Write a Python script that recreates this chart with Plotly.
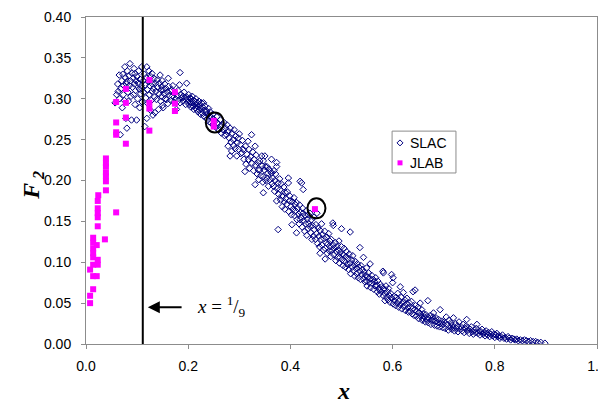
import plotly.graph_objects as go

# ---------------- data ----------------
jlab_x = [0.008, 0.008, 0.008, 0.014, 0.014, 0.021, 0.014, 0.023, 0.023, 0.014, 0.021,
          0.014, 0.014, 0.014, 0.014, 0.023, 0.037, 0.023, 0.059, 0.024, 0.023, 0.023,
          0.023, 0.039, 0.039, 0.039, 0.039, 0.039, 0.039, 0.039, 0.059, 0.059, 0.059,
          0.059, 0.078, 0.078, 0.078, 0.078, 0.124, 0.124, 0.124, 0.124, 0.174, 0.174,
          0.174, 0.250, 0.250, 0.448]
jlab_y = [0.050, 0.059, 0.091, 0.067, 0.083, 0.083, 0.097, 0.097, 0.103, 0.106, 0.121,
          0.111, 0.117, 0.124, 0.130, 0.144, 0.128, 0.155, 0.161, 0.182, 0.160, 0.166,
          0.175, 0.188, 0.199, 0.205, 0.210, 0.217, 0.221, 0.227, 0.256, 0.259, 0.271,
          0.296, 0.245, 0.277, 0.295, 0.312, 0.261, 0.288, 0.295, 0.323, 0.285, 0.294,
          0.308, 0.266, 0.273, 0.165]

slac_points = [
    # x 0.055 - 0.11
    (0.057, 0.295), (0.060, 0.305), (0.062, 0.318), (0.063, 0.309), (0.065, 0.329), (0.066, 0.300),
    (0.067, 0.256), (0.068, 0.312), (0.070, 0.322), (0.071, 0.289), (0.072, 0.330), (0.073, 0.305),
    (0.074, 0.316), (0.075, 0.298), (0.076, 0.339), (0.077, 0.326), (0.078, 0.276), (0.079, 0.318),
    (0.080, 0.264), (0.080, 0.321), (0.081, 0.334), (0.082, 0.308), (0.083, 0.297), (0.084, 0.328),
    (0.085, 0.316), (0.086, 0.343), (0.087, 0.322), (0.088, 0.303), (0.089, 0.274), (0.090, 0.331),
    (0.091, 0.314), (0.092, 0.325), (0.093, 0.305), (0.094, 0.337), (0.095, 0.318), (0.096, 0.293),
    (0.096, 0.331), (0.097, 0.310), (0.098, 0.322), (0.099, 0.274), (0.100, 0.327), (0.101, 0.300),
    (0.102, 0.319), (0.103, 0.334), (0.104, 0.312), (0.105, 0.289), (0.106, 0.324), (0.107, 0.306),
    (0.108, 0.316), (0.109, 0.339), (0.109, 0.313), (0.110, 0.296),
    # x 0.11 - 0.20
    (0.112, 0.322), (0.113, 0.308), (0.114, 0.330), (0.115, 0.266), (0.116, 0.317), (0.117, 0.301),
    (0.118, 0.326), (0.119, 0.339), (0.119, 0.276), (0.120, 0.311), (0.121, 0.294), (0.122, 0.321),
    (0.123, 0.334), (0.124, 0.305), (0.125, 0.316), (0.126, 0.286), (0.127, 0.327), (0.128, 0.298),
    (0.129, 0.331), (0.129, 0.309), (0.130, 0.318), (0.131, 0.280), (0.132, 0.312), (0.133, 0.325),
    (0.134, 0.302), (0.135, 0.283), (0.136, 0.319), (0.137, 0.309), (0.138, 0.299), (0.139, 0.323),
    (0.140, 0.314), (0.142, 0.287), (0.143, 0.306), (0.144, 0.319), (0.145, 0.329), (0.146, 0.297),
    (0.147, 0.311), (0.148, 0.303), (0.148, 0.315), (0.149, 0.322), (0.150, 0.292), (0.151, 0.289),
    (0.151, 0.311), (0.153, 0.306), (0.154, 0.318), (0.155, 0.300), (0.156, 0.313), (0.158, 0.299),
    (0.159, 0.308), (0.160, 0.294), (0.161, 0.325), (0.162, 0.315), (0.163, 0.304), (0.165, 0.309),
    (0.166, 0.298), (0.168, 0.311), (0.169, 0.303), (0.170, 0.316), (0.172, 0.296), (0.174, 0.307),
    (0.175, 0.300), (0.177, 0.287), (0.178, 0.304), (0.180, 0.310), (0.181, 0.298), (0.183, 0.317),
    (0.184, 0.295), (0.184, 0.332), (0.186, 0.305), (0.188, 0.301), (0.190, 0.303), (0.190, 0.297),
    (0.192, 0.308), (0.194, 0.300), (0.195, 0.293), (0.197, 0.319), (0.197, 0.302), (0.199, 0.296),
    # x 0.20 - 0.256
    (0.200, 0.299), (0.201, 0.305), (0.202, 0.293), (0.203, 0.301), (0.204, 0.296), (0.205, 0.290),
    (0.206, 0.300), (0.207, 0.295), (0.208, 0.303), (0.209, 0.291), (0.210, 0.298), (0.211, 0.287),
    (0.212, 0.294), (0.213, 0.297), (0.214, 0.289), (0.215, 0.300), (0.216, 0.292), (0.217, 0.287),
    (0.218, 0.295), (0.219, 0.284), (0.220, 0.290), (0.221, 0.297), (0.222, 0.286), (0.223, 0.293),
    (0.224, 0.281), (0.225, 0.288), (0.226, 0.295), (0.227, 0.283), (0.228, 0.290), (0.230, 0.295),
    (0.230, 0.279), (0.231, 0.286), (0.233, 0.291), (0.234, 0.277), (0.235, 0.284), (0.236, 0.285),
    (0.237, 0.275), (0.238, 0.281), (0.240, 0.288), (0.241, 0.272), (0.242, 0.279), (0.243, 0.284),
    (0.245, 0.270), (0.246, 0.277), (0.248, 0.281), (0.249, 0.268), (0.250, 0.275), (0.252, 0.272),
    (0.254, 0.265), (0.256, 0.278),
    # x 0.256 - 0.455
    (0.258, 0.270), (0.260, 0.262), (0.262, 0.266), (0.263, 0.274), (0.265, 0.258), (0.266, 0.268),
    (0.268, 0.262), (0.270, 0.271), (0.271, 0.255), (0.273, 0.264), (0.275, 0.256), (0.276, 0.268),
    (0.278, 0.242), (0.279, 0.260), (0.280, 0.252), (0.282, 0.264), (0.282, 0.230), (0.284, 0.247),
    (0.285, 0.236), (0.286, 0.258), (0.288, 0.250), (0.289, 0.243), (0.290, 0.262), (0.292, 0.239),
    (0.293, 0.254), (0.295, 0.230), (0.296, 0.246), (0.298, 0.252), (0.299, 0.238), (0.300, 0.257),
    (0.302, 0.244), (0.303, 0.233), (0.305, 0.234), (0.306, 0.249), (0.308, 0.238), (0.309, 0.226),
    (0.311, 0.211), (0.312, 0.242), (0.313, 0.220), (0.315, 0.232), (0.317, 0.248), (0.318, 0.226),
    (0.319, 0.238), (0.320, 0.215), (0.322, 0.229), (0.324, 0.256), (0.325, 0.221), (0.326, 0.235),
    (0.328, 0.212), (0.329, 0.226), (0.331, 0.242), (0.331, 0.195), (0.332, 0.219), (0.333, 0.231),
    (0.335, 0.208), (0.336, 0.222), (0.337, 0.213), (0.338, 0.201), (0.340, 0.224), (0.340, 0.213),
    (0.342, 0.206), (0.344, 0.230), (0.345, 0.218), (0.346, 0.198), (0.347, 0.224), (0.347, 0.205),
    (0.347, 0.185), (0.349, 0.213), (0.350, 0.230), (0.351, 0.217), (0.352, 0.200), (0.354, 0.203),
    (0.354, 0.217), (0.356, 0.209), (0.357, 0.193), (0.358, 0.214), (0.360, 0.201), (0.361, 0.211),
    (0.363, 0.226), (0.363, 0.209), (0.364, 0.196), (0.365, 0.203), (0.367, 0.193), (0.368, 0.212),
    (0.369, 0.187), (0.370, 0.200), (0.371, 0.208), (0.373, 0.222), (0.373, 0.217), (0.373, 0.175),
    (0.374, 0.190), (0.376, 0.140), (0.376, 0.197), (0.377, 0.183), (0.379, 0.202), (0.380, 0.189),
    (0.381, 0.176), (0.382, 0.196), (0.383, 0.181), (0.384, 0.168), (0.386, 0.181), (0.387, 0.192),
    (0.388, 0.174), (0.389, 0.165), (0.390, 0.185), (0.391, 0.178), (0.393, 0.171), (0.394, 0.186),
    (0.396, 0.197), (0.396, 0.203), (0.397, 0.162), (0.398, 0.175), (0.399, 0.181), (0.401, 0.168),
    (0.402, 0.158), (0.403, 0.146), (0.404, 0.174), (0.405, 0.165), (0.407, 0.179), (0.408, 0.157),
    (0.409, 0.171), (0.410, 0.163), (0.412, 0.136), (0.412, 0.173), (0.413, 0.152), (0.414, 0.166),
    (0.416, 0.159), (0.417, 0.147), (0.418, 0.170), (0.419, 0.199), (0.419, 0.152), (0.420, 0.161),
    (0.421, 0.155), (0.422, 0.197), (0.423, 0.143), (0.424, 0.166), (0.425, 0.189), (0.425, 0.160),
    (0.426, 0.151), (0.428, 0.138), (0.429, 0.157), (0.430, 0.147), (0.431, 0.163), (0.432, 0.133),
    (0.433, 0.153), (0.434, 0.141), (0.435, 0.158), (0.436, 0.147), (0.438, 0.144), (0.438, 0.160),
    (0.440, 0.136), (0.441, 0.152), (0.442, 0.128), (0.443, 0.145), (0.445, 0.132), (0.446, 0.155),
    (0.447, 0.140), (0.449, 0.128), (0.450, 0.146), (0.451, 0.135), (0.452, 0.160), (0.453, 0.123),
    (0.454, 0.142),
    # x 0.455 - 0.70
    (0.456, 0.132), (0.457, 0.119), (0.458, 0.139), (0.458, 0.111), (0.460, 0.128), (0.461, 0.147),
    (0.462, 0.121), (0.463, 0.134), (0.465, 0.115), (0.466, 0.129), (0.467, 0.138), (0.468, 0.104),
    (0.468, 0.117), (0.470, 0.124), (0.471, 0.131), (0.472, 0.111), (0.473, 0.122), (0.475, 0.135),
    (0.476, 0.114), (0.477, 0.126), (0.478, 0.119), (0.479, 0.107), (0.480, 0.128), (0.481, 0.115),
    (0.483, 0.148), (0.484, 0.145), (0.484, 0.121), (0.485, 0.109), (0.486, 0.117), (0.488, 0.124),
    (0.489, 0.102), (0.490, 0.113), (0.491, 0.119), (0.492, 0.106), (0.494, 0.115), (0.495, 0.126),
    (0.496, 0.099), (0.497, 0.106), (0.498, 0.112), (0.500, 0.141), (0.500, 0.119), (0.501, 0.103),
    (0.502, 0.110), (0.503, 0.096), (0.504, 0.109), (0.505, 0.117), (0.506, 0.101), (0.508, 0.094),
    (0.509, 0.107), (0.510, 0.113), (0.511, 0.098), (0.513, 0.104), (0.514, 0.091), (0.515, 0.110),
    (0.517, 0.137), (0.517, 0.099), (0.518, 0.086), (0.520, 0.103), (0.521, 0.094), (0.522, 0.108),
    (0.523, 0.090), (0.525, 0.097), (0.526, 0.083), (0.527, 0.101), (0.529, 0.092), (0.530, 0.086),
    (0.531, 0.098), (0.533, 0.081), (0.534, 0.094), (0.536, 0.118), (0.536, 0.089), (0.537, 0.079),
    (0.538, 0.096), (0.540, 0.085), (0.541, 0.091), (0.543, 0.106), (0.543, 0.080), (0.544, 0.088),
    (0.546, 0.076), (0.547, 0.084), (0.549, 0.093), (0.549, 0.077), (0.550, 0.071), (0.551, 0.082),
    (0.553, 0.087), (0.554, 0.075), (0.556, 0.098), (0.556, 0.080), (0.557, 0.069), (0.559, 0.084),
    (0.560, 0.074), (0.562, 0.079), (0.563, 0.067), (0.565, 0.076), (0.566, 0.071), (0.567, 0.081),
    (0.569, 0.072), (0.570, 0.064), (0.571, 0.077), (0.573, 0.068), (0.574, 0.061), (0.575, 0.066),
    (0.576, 0.073), (0.578, 0.064), (0.579, 0.070), (0.581, 0.089), (0.582, 0.087), (0.582, 0.059),
    (0.583, 0.067), (0.585, 0.053), (0.585, 0.062), (0.587, 0.071), (0.588, 0.057), (0.590, 0.064),
    (0.591, 0.054), (0.592, 0.068), (0.594, 0.059), (0.595, 0.051), (0.596, 0.062), (0.598, 0.085),
    (0.598, 0.056), (0.600, 0.075), (0.601, 0.081), (0.601, 0.049), (0.603, 0.058), (0.604, 0.053),
    (0.606, 0.047), (0.607, 0.057), (0.609, 0.050), (0.610, 0.062), (0.612, 0.045), (0.613, 0.053),
    (0.615, 0.070), (0.615, 0.048), (0.617, 0.057), (0.618, 0.043), (0.620, 0.051), (0.621, 0.063),
    (0.622, 0.046), (0.624, 0.054), (0.625, 0.041), (0.627, 0.049), (0.628, 0.056), (0.630, 0.044),
    (0.631, 0.039), (0.633, 0.050), (0.634, 0.040), (0.635, 0.045), (0.637, 0.052), (0.638, 0.037),
    (0.640, 0.064), (0.640, 0.044), (0.642, 0.035), (0.644, 0.066), (0.644, 0.042), (0.645, 0.047),
    (0.647, 0.034), (0.648, 0.040), (0.650, 0.045), (0.651, 0.031), (0.653, 0.038), (0.654, 0.050),
    (0.655, 0.034), (0.657, 0.042), (0.658, 0.029), (0.659, 0.031), (0.660, 0.037), (0.662, 0.033),
    (0.664, 0.027), (0.665, 0.036), (0.667, 0.030), (0.669, 0.053), (0.669, 0.033), (0.670, 0.026),
    (0.672, 0.031), (0.674, 0.035), (0.675, 0.024), (0.677, 0.029), (0.679, 0.033), (0.680, 0.030),
    (0.680, 0.038), (0.682, 0.023), (0.684, 0.028), (0.685, 0.032), (0.687, 0.022), (0.689, 0.026),
    (0.690, 0.030), (0.692, 0.021), (0.693, 0.042), (0.694, 0.025), (0.696, 0.028), (0.698, 0.020),
    (0.699, 0.024),
    # x 0.70 - 0.90
    (0.701, 0.027), (0.703, 0.019), (0.705, 0.033), (0.707, 0.024), (0.709, 0.017), (0.710, 0.029),
    (0.712, 0.021), (0.714, 0.026), (0.716, 0.018), (0.717, 0.023), (0.719, 0.032), (0.719, 0.020),
    (0.721, 0.016), (0.723, 0.025), (0.725, 0.019), (0.727, 0.022), (0.728, 0.015), (0.730, 0.027),
    (0.732, 0.018), (0.734, 0.021), (0.736, 0.016), (0.738, 0.024), (0.740, 0.014), (0.742, 0.019),
    (0.744, 0.022), (0.745, 0.030), (0.746, 0.016), (0.748, 0.020), (0.750, 0.013), (0.752, 0.018),
    (0.754, 0.021), (0.756, 0.015), (0.758, 0.012), (0.760, 0.017), (0.762, 0.014), (0.764, 0.019),
    (0.765, 0.024), (0.767, 0.013), (0.769, 0.016), (0.771, 0.011), (0.773, 0.015), (0.775, 0.018),
    (0.777, 0.012), (0.779, 0.014), (0.781, 0.010), (0.783, 0.016), (0.784, 0.013), (0.786, 0.011),
    (0.788, 0.014), (0.790, 0.009), (0.792, 0.012), (0.794, 0.015), (0.796, 0.010), (0.798, 0.012),
    (0.800, 0.008), (0.802, 0.011), (0.804, 0.013), (0.806, 0.009), (0.808, 0.010), (0.810, 0.007),
    (0.812, 0.009), (0.815, 0.011), (0.818, 0.007), (0.820, 0.008), (0.823, 0.006), (0.826, 0.009),
    (0.828, 0.007), (0.831, 0.005), (0.834, 0.007), (0.837, 0.006), (0.840, 0.005), (0.843, 0.006),
    (0.846, 0.004), (0.850, 0.005), (0.854, 0.004), (0.858, 0.005), (0.862, 0.004), (0.866, 0.003),
    (0.870, 0.004), (0.875, 0.003), (0.880, 0.003), (0.884, 0.002), (0.890, 0.002), (0.898, 0.001),
]
slac_x = [p[0] for p in slac_points]
slac_y = [p[1] for p in slac_points]

x_ticks = [0.0, 0.2, 0.4, 0.6, 0.8, 1.0]
y_ticks = [0.00, 0.05, 0.10, 0.15, 0.20, 0.25, 0.30, 0.35, 0.40]
x_cut = 1 / 9
circled = [(0.252, 0.271), (0.451, 0.166)]
legend_names = ["SLAC", "JLAB"]

SLAC_COLOR = "#00007F"
JLAB_COLOR = "#FF00FF"
AXIS_GRAY = "#8C8C8C"
SERIF = "Liberation Serif"

# ---------------- figure ----------------
fig = go.Figure()
fig.add_trace(go.Scatter(
    x=slac_x, y=slac_y, mode="markers", name=legend_names[0], showlegend=False,
    marker=dict(symbol="diamond-open", size=5, color=SLAC_COLOR, line=dict(width=1, color=SLAC_COLOR)),
))
fig.add_trace(go.Scatter(
    x=jlab_x, y=jlab_y, mode="markers", name=legend_names[1], showlegend=False,
    marker=dict(symbol="square", size=6, color=JLAB_COLOR),
))

fig.add_shape(type="line", xref="x", yref="y", x0=x_cut, x1=x_cut, y0=0, y1=0.40,
              line=dict(color="black", width=2))
for cx, cy in circled:
    fig.add_shape(type="circle", xref="x", yref="y", xsizemode="pixel", ysizemode="pixel",
                  xanchor=cx, yanchor=cy, x0=-9, x1=9, y0=-10, y1=10,
                  line=dict(color="black", width=2))

axis_common = dict(showgrid=False, zeroline=False, showline=True, linecolor=AXIS_GRAY,
                   linewidth=1, mirror=True, ticks="outside", ticklen=4, tickcolor=AXIS_GRAY,
                   tickfont=dict(family="Arial", size=14, color="black"),
                   ticklabeloverflow="allow", automargin=False)

fig.update_xaxes(range=[0, 1.0], tickvals=x_ticks, tickformat=".1f", ticklabelstandoff=5, **axis_common)
fig.update_yaxes(range=[0, 0.40], tickvals=y_ticks, tickformat=".2f", ticklabelstandoff=7, **axis_common)

# arrow and label for x = 1/9
fig.add_annotation(x=0.121, y=0.045, ax=0.190, ay=0.045, xref="x", yref="y", axref="x", ayref="y",
                   text="", showarrow=True, arrowhead=2, arrowsize=1.2, arrowwidth=2, arrowcolor="black")
fig.add_annotation(x=0.266, y=0.046, xref="x", yref="y", xanchor="center", yanchor="middle",
                   showarrow=False, text="<i>x</i> = <sup>1</sup>/<sub>9</sub>",
                   font=dict(family=SERIF, size=19, color="black"))

# axis titles
fig.add_annotation(x=0.503, y=-0.145, xref="paper", yref="paper", xanchor="center", yanchor="middle",
                   showarrow=False, text="<b><i>x</i></b>",
                   font=dict(family=SERIF, size=24, color="black"))
fig.add_annotation(x=-0.108, y=0.468, xref="paper", yref="paper", xanchor="center", yanchor="middle",
                   showarrow=False, textangle=-90, text="<b><i>F</i></b>",
                   font=dict(family=SERIF, size=24, color="black"))
fig.add_annotation(x=-0.093, y=0.515, xref="paper", yref="paper", xanchor="center", yanchor="middle",
                   showarrow=False, textangle=-90, text="<b><i>2</i></b>",
                   font=dict(family=SERIF, size=16, color="black"))

# legend box (drawn to match the compact original legend)
lx0, lx1, ly0, ly1 = 0.599, 0.724, 0.523, 0.651
fig.add_shape(type="rect", xref="paper", yref="paper", x0=lx0, x1=lx1, y0=ly0, y1=ly1,
              line=dict(color=AXIS_GRAY, width=1), fillcolor="white", layer="above")
legend_rows = [0.615, 0.554]
fig.add_shape(type="path", xref="paper", yref="paper", xsizemode="pixel", ysizemode="pixel",
              xanchor=0.6145, yanchor=legend_rows[0],
              path="M 0 3 L 3 0 L 0 -3 L -3 0 Z", line=dict(color=SLAC_COLOR, width=1), layer="above")
fig.add_shape(type="rect", xref="paper", yref="paper", xsizemode="pixel", ysizemode="pixel",
              xanchor=0.6145, yanchor=legend_rows[1], x0=-2.5, x1=2.5, y0=-2.5, y1=2.5,
              line=dict(width=0), fillcolor=JLAB_COLOR, layer="above")
for name, ry in zip(legend_names, legend_rows):
    fig.add_annotation(x=0.631, y=ry, xref="paper", yref="paper", xanchor="left", yanchor="middle",
                       showarrow=False, text=name, font=dict(family="Arial", size=14, color="black"))

fig.update_layout(
    width=598, height=398,
    margin=dict(l=78, r=9, t=9, b=62, autoexpand=False),
    paper_bgcolor="white", plot_bgcolor="white",
    showlegend=False,
)

fig.write_html("out.html")
